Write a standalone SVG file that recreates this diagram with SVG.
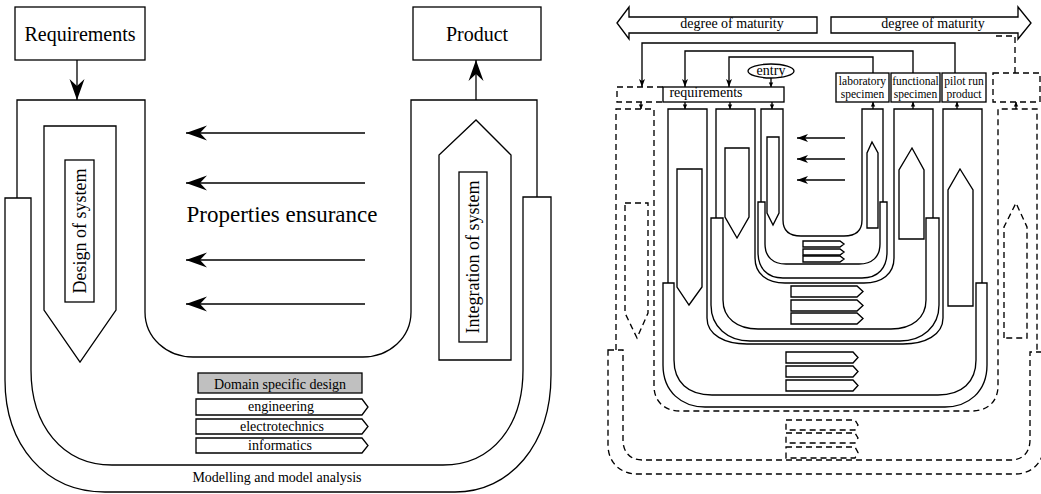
<svg xmlns="http://www.w3.org/2000/svg" width="1041" height="494" viewBox="0 0 1041 494">
<defs>
<style>
.l{fill:none;stroke:#000;stroke-width:1.3}
.r{fill:none;stroke:#000;stroke-width:1.35}
.d{stroke-dasharray:6,4}
.t{font-family:"Liberation Serif","Times New Roman",serif;fill:#000;text-anchor:middle}
</style>
<marker id="mB" markerUnits="userSpaceOnUse" viewBox="-22 -9 24 18" refX="0" refY="0" markerWidth="24" markerHeight="18" orient="auto"><path d="M0,0 L-21,-7.5 L-14,0 L-21,7.5 Z" fill="#000"/></marker>
<marker id="mR" markerUnits="userSpaceOnUse" viewBox="-12 -6 14 12" refX="0" refY="0" markerWidth="14" markerHeight="12" orient="auto"><path d="M0,0 L-11,-4 L-8,0 L-11,4 Z" fill="#000"/></marker>
<marker id="mS" markerUnits="userSpaceOnUse" viewBox="-9 -5 10 10" refX="0" refY="0" markerWidth="10" markerHeight="10" orient="auto"><path d="M0,0 L-8,-3 L-6,0 L-8,3 Z" fill="#000"/></marker>
<marker id="mT" markerUnits="userSpaceOnUse" viewBox="-6 -4 7 8" refX="0" refY="0" markerWidth="7" markerHeight="8" orient="auto"><path d="M0,0 L-4.5,-2.2 L-4.5,2.2 Z" fill="#000"/></marker>
</defs>
<rect width="1041" height="494" fill="#fff"/>

<!-- ===== LEFT DIAGRAM ===== -->
<g id="modelling">
<path class="l" d="M5,198 H31 V370 C31,425 62,465 112,465 H443 C493,465 523,425 523,370 V197 H551 V375 C551,445 510,492 455,492 H105 C45,492 5,445 5,380 Z"/>
<text class="t" x="277" y="482" font-size="14">Modelling and model analysis</text>
</g>
<g id="properties-u">
<path class="l" d="M17,198 V100 H145 V312 C145,338 167,357 193,357 H363 C389,357 411,338 411,312 V100 H537 V197"/>
</g>
<g id="requirements">
<rect class="l" x="15" y="7" width="130" height="53"/>
<text class="t" x="80" y="41" font-size="20">Requirements</text>
</g>
<g id="product">
<rect class="l" x="413" y="7" width="128" height="53"/>
<text class="t" x="477" y="41" font-size="20">Product</text>
</g>
<g id="design">
<path class="l" d="M44,126 H116 V310 L80,362 L44,310 Z"/>
<rect class="l" x="65" y="160" width="29" height="142"/>
<text class="t" transform="translate(86,231) rotate(-90)" font-size="18">Design of system</text>
</g>
<g id="integration">
<path class="l" d="M439,360 V155 L476,120 L511,155 V360 Z"/>
<rect class="l" x="459" y="172" width="28" height="170"/>
<text class="t" transform="translate(479,257) rotate(-90)" font-size="18">Integration of system</text>
</g>
<g id="properties-label">
<text class="t" x="282" y="222" font-size="23">Properties ensurance</text>
</g>
<g id="domain">
<rect x="198" y="373" width="164" height="20" fill="#c0c0c0" stroke="#000" stroke-width="1.3"/>
<text class="t" x="280" y="389" font-size="14">Domain specific design</text>
<path class="l" d="M196,399 H362 L368,407 L362,415 H196 Z"/>
<text class="t" x="281" y="411" font-size="14">engineering</text>
<path class="l" d="M196,419 H362 L368,426.5 L362,434 H196 Z"/>
<text class="t" x="282" y="431" font-size="14">electrotechnics</text>
<path class="l" d="M196,438 H362 L368,445.5 L362,453 H196 Z"/>
<text class="t" x="280" y="450" font-size="14">informatics</text>
</g>
<g id="left-connectors">
<line class="l" x1="77" y1="60" x2="77" y2="100" marker-end="url(#mB)"/>
<line class="l" x1="476" y1="100" x2="476" y2="60" marker-end="url(#mB)"/>
<line class="l" x1="365" y1="133" x2="186" y2="133" marker-end="url(#mB)"/>
<line class="l" x1="365" y1="183" x2="186" y2="183" marker-end="url(#mB)"/>
<line class="l" x1="365" y1="260" x2="186" y2="260" marker-end="url(#mB)"/>
<line class="l" x1="365" y1="304" x2="186" y2="304" marker-end="url(#mB)"/>
</g>

<!-- ===== RIGHT DIAGRAM ===== -->
<g id="maturity-left">
<path class="r" d="M617,23 L629,7 V17 H817 V33 H629 V39 Z"/>
<text class="t" x="732" y="28" font-size="14">degree of maturity</text>
</g>
<g id="maturity-right">
<path class="r" d="M831,17 H1018 V7 L1031,23 L1018,39 V33 H831 Z"/>
<text class="t" x="933" y="28" font-size="14">degree of maturity</text>
</g>

<g id="uD-model">
<path class="r d" d="M608,350 H623 V440 C623,452 630,460 642,460 H1011 C1023,460 1030,452 1030,440 V352 H1044 V445 C1044,462 1032,474 1015,474 H637 C620,474 608,462 608,445 Z"/>
</g>
<g id="uD">
<path class="r d" d="M616,350 V109 H654 V386 C654,401 664,411 680,411 H972 C988,411 998,401 998,386 V109 H1037 V352"/>
<path class="r d" d="M625,203 H648 V313 L637,338 L625,313 Z"/>
<path class="r d" d="M1004,338 V227 L1016,203 L1027,227 V338 Z"/>
<path class="r d" d="M786,420 H855 L858,425 L855,430 H786 Z"/>
<path class="r d" d="M786,433 H855 L858,438 L855,443 H786 Z"/>
<path class="r d" d="M786,447 H855 L858,452.5 L855,458 H786 Z"/>
</g>
<g id="uC-model">
<path class="r" d="M663,283 H674 V360 C674,382 688,395 712,395 H938 C962,395 976,382 976,360 V283 H987 V365 C987,392 968,407 945,407 H705 C682,407 663,392 663,365 Z"/>
</g>
<g id="uC">
<path class="r" d="M668,283 V109 H707 V318 C707,335 725,344 747,344 H903 C925,344 943,335 943,318 V109 H982 V283"/>
<path class="r" d="M677,169 H702 V287 L689,305 L677,287 Z"/>
<path class="r" d="M948,306 V190 L960,169 L973,190 V306 Z"/>
<path class="r" d="M786,352 H853 L858,357.5 L853,363 H786 Z"/>
<path class="r" d="M786,366 H853 L858,371.5 L853,377 H786 Z"/>
<path class="r" d="M786,380 H853 L858,385.5 L853,391 H786 Z"/>
</g>
<g id="uB-model">
<path class="r" d="M711,218 H723 V300 C723,318 737,329 758,329 H891 C912,329 926,318 926,300 V218 H939 V305 C939,327 922,341 900,341 H750 C728,341 711,327 711,305 Z"/>
</g>
<g id="uB">
<path class="r" d="M716,218 V109 H755 V258 C755,274 767,283 785,283 H864 C882,283 894,274 894,258 V109 H933 V218"/>
<path class="r" d="M725,148 H749 V217 L737,238 L725,217 Z"/>
<path class="r" d="M899,239 V170 L912,148 L924,170 V239 Z"/>
<path class="r" d="M791,286 H857 L863,291.5 L857,297 H791 Z"/>
<path class="r" d="M791,300 H857 L863,305.5 L857,311 H791 Z"/>
<path class="r" d="M791,313 H857 L863,318.5 L857,324 H791 Z"/>
</g>
<g id="uA-model">
<path class="r" d="M758,202 H765 V244 C765,257 773,264 786,264 H859 C872,264 880,257 880,244 V202 H887 V252 C887,268 878,278 862,278 H783 C767,278 758,268 758,252 Z"/>
</g>
<g id="uA">
<path class="r" d="M761,202 V109 H783 V220 C783,231 790,236 801,236 H844 C855,236 862,231 862,220 V109 H883 V202"/>
<path class="r" d="M767,137 H779 V213 L773,225 L767,213 Z"/>
<path class="r" d="M867,228 V153 L872,142 L878,153 V228 Z"/>
<path class="r" d="M803,241 H840 L844,244 L840,247 H803 Z"/>
<path class="r" d="M803,249 H840 L844,252 L840,255 H803 Z"/>
<path class="r" d="M803,256 H840 L844,259 L840,262 H803 Z"/>
</g>

<g id="requirements-box">
<path class="r d" d="M663,87 H617 V102 H663"/>
<rect class="r" x="663" y="87" width="121" height="15"/>
<text class="t" x="706" y="97" font-size="14">requirements</text>
</g>
<g id="entry">
<ellipse class="r" cx="771" cy="71" rx="23" ry="7"/>
<text class="t" x="771" y="75" font-size="14">entry</text>
</g>
<g id="laboratory-specimen">
<rect class="r" x="836" y="73" width="53" height="29"/>
<text class="t" x="862.5" y="85" font-size="11.5">laboratory</text>
<text class="t" x="862.5" y="98" font-size="11.5">specimen</text>
</g>
<g id="functional-specimen">
<rect class="r" x="891" y="73" width="49" height="29"/>
<text class="t" x="915.5" y="85" font-size="11.5">functional</text>
<text class="t" x="915.5" y="98" font-size="11.5">specimen</text>
</g>
<g id="pilot-run-product">
<rect class="r" x="942" y="73" width="44" height="29"/>
<text class="t" x="964" y="85" font-size="11.5">pilot run</text>
<text class="t" x="964" y="98" font-size="11.5">product</text>
</g>
<g id="next-box">
<rect class="r d" x="993" y="73" width="47" height="29"/>
</g>

<g id="right-connectors">
<path class="r" d="M955,73 V43 H642 V87" marker-end="url(#mS)"/>
<path class="r" d="M913,73 V51 H685 V87" marker-end="url(#mS)"/>
<path class="r" d="M873,73 V57 H729 V87" marker-end="url(#mS)"/>
<path class="r d" d="M1015,73 V36 H993"/>
<line class="r" x1="771" y1="78" x2="771" y2="87" marker-end="url(#mT)"/>
<line class="r" x1="641" y1="102" x2="641" y2="109" marker-end="url(#mT)"/>
<line class="r" x1="685" y1="102" x2="685" y2="109" marker-end="url(#mT)"/>
<line class="r" x1="730" y1="102" x2="730" y2="109" marker-end="url(#mT)"/>
<line class="r" x1="772" y1="102" x2="772" y2="109" marker-end="url(#mT)"/>
<line class="r" x1="873" y1="109" x2="873" y2="102" marker-end="url(#mT)"/>
<line class="r" x1="913" y1="109" x2="913" y2="102" marker-end="url(#mT)"/>
<line class="r" x1="957" y1="109" x2="957" y2="102" marker-end="url(#mT)"/>
<line class="r" x1="1016" y1="109" x2="1016" y2="102" marker-end="url(#mT)"/>
<line class="r" x1="845" y1="138" x2="797" y2="138" marker-end="url(#mR)"/>
<line class="r" x1="845" y1="159" x2="797" y2="159" marker-end="url(#mR)"/>
<line class="r" x1="845" y1="180" x2="797" y2="180" marker-end="url(#mR)"/>
</g>
</svg>
